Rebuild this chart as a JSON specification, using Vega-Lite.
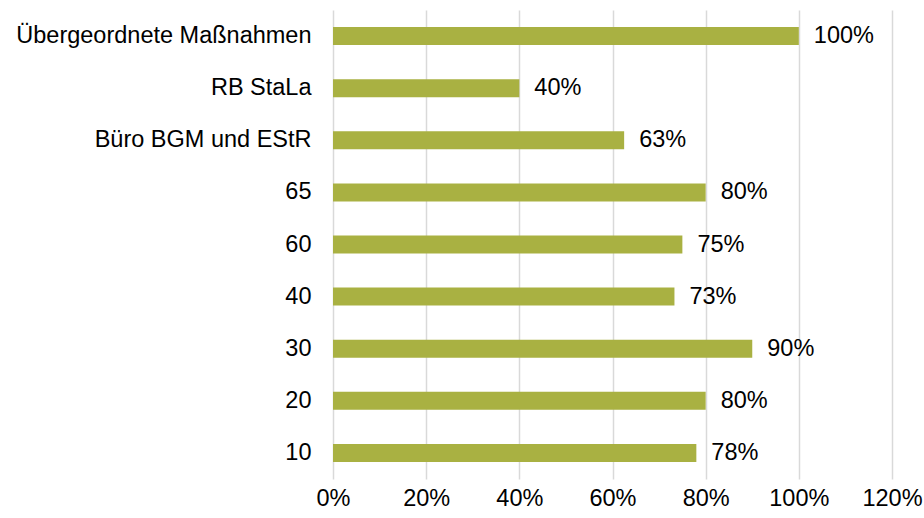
{
  "$schema": "https://vega.github.io/schema/vega-lite/v6.json",
  "autosize": {"type": "none"},
  "padding": {"left": 333, "top": 10, "right": 32, "bottom": 39},
  "width": 559,
  "height": 469,
  "background": "white",
  "config": {
    "view": {"stroke": null},
    "font": "Liberation Sans",
    "axis": {"labelFont": "Liberation Sans", "labelFontSize": 23.5, "labelColor": "#000000", "labelLimit": 0}
  },
  "data": {
    "values": [
      {"cat": "Übergeordnete Maßnahmen", "value": 1.0, "label": "100%"},
      {"cat": "RB StaLa", "value": 0.4, "label": "40%"},
      {"cat": "Büro BGM und EStR", "value": 0.625, "label": "63%"},
      {"cat": "65", "value": 0.8, "label": "80%"},
      {"cat": "60", "value": 0.75, "label": "75%"},
      {"cat": "40", "value": 0.733, "label": "73%"},
      {"cat": "30", "value": 0.9, "label": "90%"},
      {"cat": "20", "value": 0.8, "label": "80%"},
      {"cat": "10", "value": 0.78, "label": "78%"}
    ]
  },
  "encoding": {
    "y": {
      "field": "cat",
      "type": "nominal",
      "sort": null,
      "scale": {"paddingInner": 0.655, "paddingOuter": 0.3275},
      "axis": {"title": null, "ticks": false, "domain": false, "labelPadding": 22, "grid": false, "labelLimit": 0}
    },
    "x": {
      "field": "value",
      "type": "quantitative",
      "scale": {"domain": [0, 1.2], "nice": false},
      "axis": {
        "title": null,
        "format": ".0%",
        "values": [0, 0.2, 0.4, 0.6, 0.8, 1.0, 1.2],
        "grid": true,
        "gridColor": "#d9d9d9",
        "gridWidth": 1.5,
        "domain": false,
        "ticks": false,
        "labelFlush": false,
        "labelPadding": 7
      }
    }
  },
  "layer": [
    {"mark": {"type": "bar", "color": "#a9b142"}},
    {
      "mark": {"type": "text", "align": "left", "baseline": "middle", "dx": 15, "fontSize": 23.5, "color": "#000000", "font": "Liberation Sans"},
      "encoding": {"text": {"field": "label"}}
    }
  ]
}
